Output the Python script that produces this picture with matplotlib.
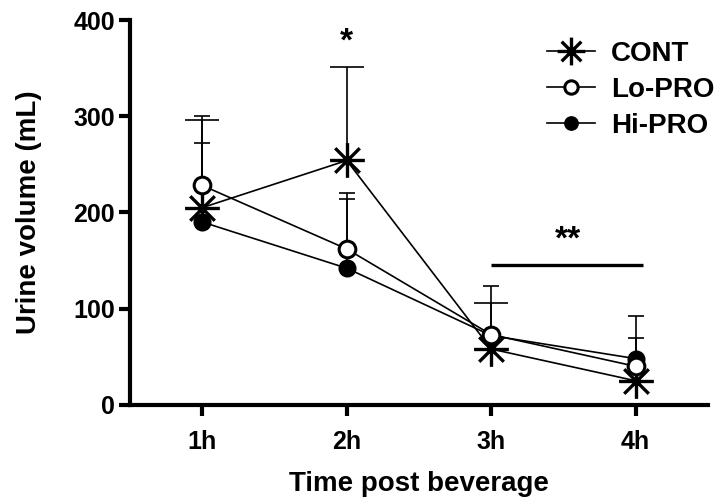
import matplotlib
matplotlib.use("Agg")
import matplotlib.pyplot as plt
import numpy as np
from matplotlib.path import Path

plt.rcParams['font.family'] = ['Liberation Sans', 'DejaVu Sans']
plt.rcParams['font.weight'] = 'bold'

time_labels = ["1h", "2h", "3h", "4h"]
cont = [205, 254, 58, 25]
cont_err = [91, 97, 48, 0]
lo_pro = [228, 162, 73, 40]
lo_err = [72, 58, 51, 29]
hi_pro = [190, 142, 72, 48]
hi_err = [82, 72, 0, 44]

x = np.arange(1, len(time_labels) + 1)

# 8-armed asterisk marker
verts = []
codes = []
for ang in [0, 45, 90, 135]:
    a = np.deg2rad(ang)
    verts += [(-np.cos(a), -np.sin(a)), (np.cos(a), np.sin(a))]
    codes += [Path.MOVETO, Path.LINETO]
asterisk = Path(verts, codes)

fig = plt.figure(figsize=(7.23, 5.01), dpi=100)
ax = fig.add_axes([0.18, 0.192, 0.799, 0.768])

lw = 1.2
ax.errorbar(x, cont, yerr=[np.zeros(4), cont_err], fmt='none', ecolor='black',
            elinewidth=lw, capsize=12.5, capthick=lw, zorder=2)
ax.errorbar(x, lo_pro, yerr=[np.zeros(4), lo_err], fmt='none', ecolor='black',
            elinewidth=lw, capsize=6, capthick=lw, zorder=2)
ax.errorbar(x, hi_pro, yerr=[np.zeros(4), hi_err], fmt='none', ecolor='black',
            elinewidth=lw, capsize=6, capthick=lw, zorder=2)

ax.plot(x, cont, color='black', lw=lw, marker=asterisk, markersize=25,
        markeredgewidth=2.4, markeredgecolor='black', label='CONT', zorder=3)
ax.plot(x, hi_pro, color='black', lw=lw, marker='o', markersize=12,
        markerfacecolor='black', markeredgecolor='black', label='Hi-PRO', zorder=4)
ax.plot(x, lo_pro, color='black', lw=lw, marker='o', markersize=12,
        markerfacecolor='white', markeredgewidth=2.2, markeredgecolor='black',
        label='Lo-PRO', zorder=5)

# significance marks
ax.text(2, 377, '*', ha='center', va='center', fontsize=24, fontweight='bold')
ax.plot([3.0, 4.05], [145, 145], color='black', lw=2.4, solid_capstyle='butt')
ax.text(3.53, 171, '**', ha='center', va='center', fontsize=24, fontweight='bold')

ax.set_xlim(0.5, 4.5)
ax.set_ylim(0, 400)
ax.set_xticks(x)
ax.set_xticklabels(time_labels)
ax.set_yticks([0, 100, 200, 300, 400])

for s in ['top', 'right']:
    ax.spines[s].set_visible(False)
for s in ['left', 'bottom']:
    ax.spines[s].set_linewidth(3)
ax.tick_params(axis='both', width=3, length=8, labelsize=18, direction='out')
ax.tick_params(axis='x', pad=10)
ax.tick_params(axis='y', pad=3)
for lab in ax.get_xticklabels() + ax.get_yticklabels():
    lab.set_fontweight('bold')

ax.set_xlabel('Time post beverage', fontsize=20, fontweight='bold')
ax.set_ylabel('Urine volume (mL)', fontsize=20, fontweight='bold')
ax.xaxis.set_label_coords(0.5, -0.172)
ax.yaxis.set_label_coords(-0.153, 0.5)

handles, labels = ax.get_legend_handles_labels()
order = [0, 2, 1]
leg = ax.legend([handles[i] for i in order], [labels[i] for i in order],
                loc='upper right', bbox_to_anchor=(1.055, 1.01), frameon=False,
                fontsize=20, handlelength=1.7, handletextpad=0.6, labelspacing=0.35,
                markerscale=0.8)
for t in leg.get_texts():
    t.set_fontweight('bold')

fig.savefig('out.png', dpi=100)
